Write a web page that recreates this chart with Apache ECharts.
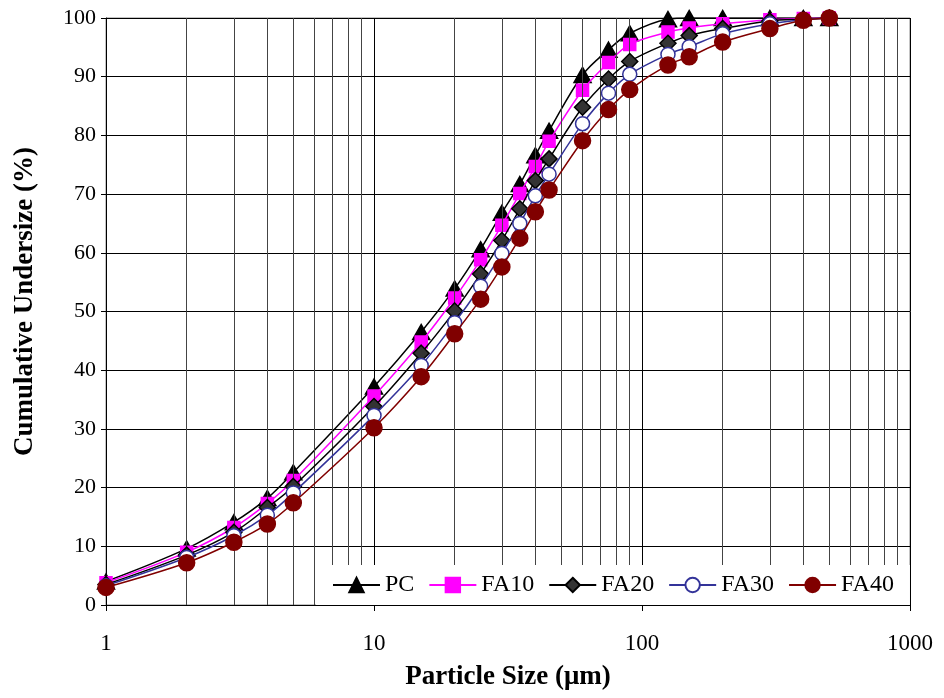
<!DOCTYPE html>
<html>
<head>
<meta charset="utf-8">
<script src="https://cdn.jsdelivr.net/npm/echarts@6/dist/echarts.min.js"></script>
<style>html,body{margin:0;padding:0;background:#fff}#c{width:944px;height:698px}</style>
</head>
<body>
<div id="c"></div>
<script>
const sizes = [1, 2, 3, 4, 5, 10, 15, 20, 25, 30, 35, 40, 45, 60, 75, 90, 125, 150, 200, 300, 400, 500];
const PC   = [4.0, 9.6, 14.1, 18.2, 22.6, 37.2, 46.5, 53.9, 60.6, 66.8, 71.7, 76.6, 80.8, 90.3, 94.6, 97.4, 99.8, 100, 100, 100, 100, 100];
const FA10 = [3.8, 9.0, 13.2, 17.3, 21.2, 35.6, 44.8, 52.3, 58.8, 64.7, 70.1, 74.7, 79.0, 87.7, 92.4, 95.5, 97.6, 98.3, 99.0, 99.7, 99.9, 100];
const FA20 = [3.5, 8.5, 12.4, 16.6, 20.2, 33.8, 42.9, 50.1, 56.4, 62.1, 67.5, 72.3, 76.0, 84.8, 89.6, 92.6, 95.7, 97.0, 98.2, 99.5, 99.8, 100];
const FA30 = [3.3, 8.1, 11.8, 15.3, 19.1, 32.3, 40.8, 48.1, 54.3, 59.9, 65.0, 69.7, 73.4, 82.0, 87.2, 90.4, 93.8, 95.1, 97.3, 99.0, 99.7, 100];
const FA40 = [3.0, 7.2, 10.7, 13.8, 17.4, 30.2, 38.9, 46.2, 52.1, 57.6, 62.5, 67.0, 70.7, 79.1, 84.4, 87.8, 92.0, 93.4, 95.9, 98.2, 99.6, 100];
const names = ['PC', 'FA10', 'FA20', 'FA30', 'FA40'];
const minorGrid = [2,3,4,5,6,7,8,9,20,30,40,50,60,70,80,90,200,300,400,500,600,700,800,900];
const yTicks = [0, 100, 10];

const font = 'Liberation Serif';
const pairs = arr => sizes.map((s, i) => [s, arr[i]]);

const styles = [
  {color:'#000000', symbol:'triangle', size:[17,15], fill:'#000000', border:'#000000'},
  {color:'#FF00FF', symbol:'rect', size:12, fill:'#FF00FF', border:'#FF00FF'},
  {color:'#000000', symbol:'diamond', size:[16,16], fill:'#333333', border:'#000000'},
  {color:'#333399', symbol:'circle', size:14, fill:'#FFFFFF', border:'#333399'},
  {color:'#800000', symbol:'circle', size:16, fill:'#800000', border:'#800000'}
];
const allData = [PC, FA10, FA20, FA30, FA40];

const series = allData.map((arr, i) => ({
  name: names[i],
  type: 'line',
  data: pairs(arr),
  smooth: 0.35,
  symbol: styles[i].symbol,
  symbolSize: styles[i].size,
  lineStyle: {color: styles[i].color, width: 1.5},
  itemStyle: {color: styles[i].fill, borderColor: styles[i].border, borderWidth: 1.5},
  z: 3 + i
}));
series.push({
  type: 'line', data: [], silent: true,
  markLine: {
    silent: true, symbol: 'none', label: {show: false},
    lineStyle: {color: '#444', width: 1, type: 'solid'},
    data: minorGrid.map(v => ({xAxis: v}))
  },
  z: 1
});

const chart = echarts.init(document.getElementById('c'));
chart.setOption({
  animation: false,
  backgroundColor: '#fff',
  grid: {left: 106, right: 34, top: 18, bottom: 93, show: true, borderColor: '#888', borderWidth: 1},
  xAxis: {
    type: 'log', logBase: 10, min: 1, max: 1000,
    name: 'Particle Size (μm)', nameLocation: 'middle', nameGap: 59,
    nameTextStyle: {fontFamily: font, fontWeight: 'bold', fontSize: 27, color: '#000'},
    axisLine: {lineStyle: {color: '#000', width: 1}},
    axisTick: {show: true, length: 6, lineStyle: {color: '#000'}},
    axisLabel: {fontFamily: font, fontSize: 23, color: '#000', margin: 27,
                formatter: v => String(v)},
    splitLine: {show: true, lineStyle: {color: '#000', width: 1}}
  },
  yAxis: {
    type: 'value', min: yTicks[0], max: yTicks[1], interval: yTicks[2],
    name: 'Cumulative Undersize (%)', nameLocation: 'middle', nameGap: 67,
    nameTextStyle: {fontFamily: font, fontWeight: 'bold', fontSize: 27, color: '#000', padding: [0, 0, 0, 20]},
    axisLine: {show: true, lineStyle: {color: '#000', width: 1}},
    axisTick: {show: true, length: 5, lineStyle: {color: '#000'}},
    axisLabel: {fontFamily: font, fontSize: 22, color: '#000', margin: 10},
    splitLine: {show: true, lineStyle: {color: '#000', width: 1}}
  },
  legend: {
    data: names,
    left: 316, top: 565,
    padding: [8, 16, 8, 16],
    itemGap: 14, itemWidth: 47, itemHeight: 18,
    backgroundColor: '#fff', borderWidth: 0,
    textStyle: {fontFamily: font, fontSize: 24, color: '#000'},
    z: 10
  },
  series: series
});
</script>
</body>
</html>
